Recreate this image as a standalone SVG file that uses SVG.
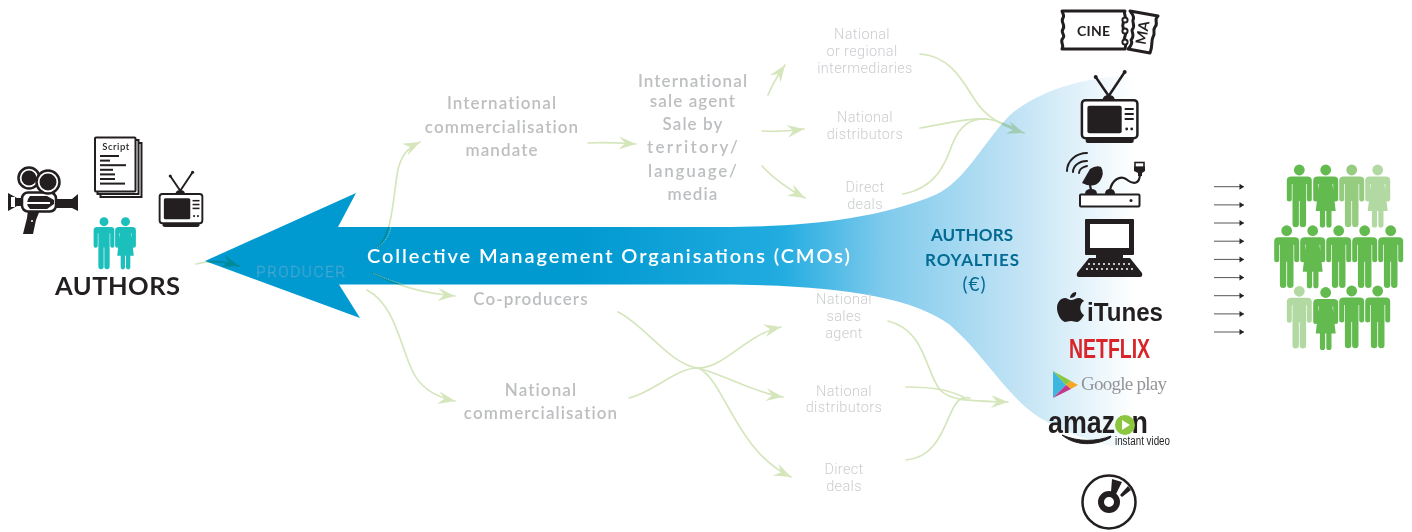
<svg xmlns="http://www.w3.org/2000/svg" width="1412" height="532" viewBox="0 0 1412 532">
<style>
.b{font-family:"Lato","Liberation Sans",sans-serif;font-size:17px;font-weight:600;fill:#bcbec0;text-anchor:middle;letter-spacing:1.1px}
.t{font-family:"Roboto","Liberation Sans",sans-serif;font-size:14.5px;font-weight:300;fill:#cbcdcf;text-anchor:middle;letter-spacing:0.35px}
.c path{fill:none;stroke:#d5e6bd;stroke-width:1.7;stroke-linecap:round}
.c{mix-blend-mode:multiply}
.o path{fill:none;stroke:#7fc4c8;stroke-width:0.9;stroke-dasharray:1.500 0.800}
.r{font-family:"Lato","Liberation Sans",sans-serif;font-size:17px;font-weight:700;fill:#036a93;text-anchor:middle}
.pa path{stroke:#555;stroke-width:1;fill:none}
.k{fill:#231f20}
.ks{fill:none;stroke:#231f20}
.g1{fill:#63bb50}.g2{fill:#96cc80}.g3{fill:#b3d9a3}
</style>
<defs>
<linearGradient id="band" gradientUnits="userSpaceOnUse" x1="205" y1="0" x2="1135" y2="0">
<stop offset="0" stop-color="#0099d0"/>
<stop offset="0.4" stop-color="#0099d0"/>
<stop offset="0.62" stop-color="#22ace0"/>
<stop offset="0.73" stop-color="#7fcaec"/>
<stop offset="0.88" stop-color="#c4e4f5"/>
<stop offset="1" stop-color="#ffffff"/>
</linearGradient>
<marker id="ah" markerUnits="userSpaceOnUse" markerWidth="19" markerHeight="15" viewBox="-18 -7.5 19 15" refX="0" refY="0" orient="auto">
<path d="M0,0L-17,-6.5L-11,0L-17,6.5Z" fill="#d5e6bd"/>
</marker>
<marker id="sa" markerUnits="userSpaceOnUse" markerWidth="7" markerHeight="7" viewBox="-6 -3.5 7 7" refX="0" refY="0" orient="auto">
<path d="M0,0L-4.5,-3V3Z" fill="#222"/>
</marker>
<symbol id="man" overflow="visible">
<circle cx="0" cy="0" r="5.400"/>
<path d="M-8,6.500H8Q12.500,6.500 12.500,10.500V29a2.500,2.500 0 0 1-5,0V14H6.800V54a3.200,3.200 0 0 1-6.400,0V31H-0.400V54a3.200,3.200 0 0 1-6.400,0V14H-7.500V29a2.500,2.500 0 0 1-5,0V10.500Q-12.500,6.500-8,6.500Z"/>
</symbol>
<symbol id="woman" overflow="visible">
<circle cx="0" cy="0" r="5.400"/>
<path d="M-8,6.500H8Q12.500,6.500 12.500,10.500V29a2.500,2.500 0 0 1-5,0V14H6.800L10,41H5.800V55a2.600,2.600 0 0 1-5.200,0V41H-0.600V55a2.600,2.600 0 0 1-5.200,0V41H-10L-6.800,14H-7.500V29a2.500,2.500 0 0 1-5,0V10.500Q-12.500,6.500-8,6.500Z"/>
</symbol>
<symbol id="tv" overflow="visible">
<path class="ks" stroke-width="2.500" stroke-linecap="round" d="M28,-3L15,-22M28,-3L44,-27"/>
<circle class="k" cx="15" cy="-22" r="2"/><circle class="k" cx="44" cy="-27" r="2"/>
<path class="k" d="M22,0Q23,-4 28,-4Q33,-4 34,0Z"/>
<path class="k" d="M5,40H53V42Q53,44 50,44H8Q5,44 5,42Z"/>
<rect x="1.200" y="1.200" width="55.500" height="38" rx="3.500" fill="#fff" stroke="#231f20" stroke-width="2.500"/>
<rect class="k" x="6.700" y="6.700" width="34.300" height="27.500" rx="2"/>
<rect class="k" x="44" y="9" width="9" height="2"/><rect class="k" x="44" y="14" width="9" height="2"/><rect class="k" x="44" y="19" width="9" height="2"/>
<circle class="k" cx="46" cy="30" r="1.400"/><circle class="k" cx="51" cy="30" r="1.400"/>
</symbol>
</defs>

<path id="flow-band" fill="url(#band)" d="M205,261L356,193L338,227H720C790,227 870,222 935,195C965,182 985,140 1010,115C1040,90 1085,76 1135,76V450C1105,447 1075,437 1040,418C1005,395 985,355 950,325C910,295 830,285 720,284.500H339L360,318Z"/>

<g id="connectors">
<g class="c">
<path d="M196,264C208,261 220,260 239,266" marker-end="url(#ah)"/>
<path d="M377,248C392,236 393,200 397,175C400,155 408,148 420,142" marker-end="url(#ah)"/>
<path d="M588,143C605,142 620,143 636,144" marker-end="url(#ah)"/>
<path d="M373,273C395,285 420,293 455,296" marker-end="url(#ah)"/>
<path d="M367,290C395,305 400,345 412,370C420,388 435,397 455,401" marker-end="url(#ah)"/>
<path d="M768,95C772,85 778,75 785,65" marker-end="url(#ah)"/>
<path d="M762,131C776,132 790,131 804,129" marker-end="url(#ah)"/>
<path d="M762,166C775,180 790,190 805,198" marker-end="url(#ah)"/>
<path d="M920,54C950,56 962,80 975,100C985,116 1000,125 1024,133" marker-end="url(#ah)"/>
<path d="M920,128C945,124 965,118 985,119C995,119 1005,124 1014,128"/>
<path d="M903,194C935,188 945,165 952,145C960,125 970,118 988,119"/>
<path d="M618,312C645,325 670,365 698,368C725,368 745,335 781,327" marker-end="url(#ah)"/>
<path d="M629,398C655,392 675,368 698,368C725,375 755,393 783,397" marker-end="url(#ah)"/>
<path d="M698,368C725,380 735,450 791,477" marker-end="url(#ah)"/>
<path d="M888,321C925,330 925,370 940,390C950,400 965,401 1008,402" marker-end="url(#ah)"/>
<path d="M906,387C935,387 950,390 965,398"/>
<path d="M906,460C940,457 945,420 955,405C960,397 965,397 970,398"/>
</g>
<g class="o">
<path d="M377,248C385,242 389,236 391,227"/>
<path d="M373,273C383,278 392,281 402,284"/>
</g>
</g>

<g id="cmo-label">
<text x="367" y="263" font-family="Lato,'Liberation Sans',sans-serif" font-size="20" font-weight="600" fill="#fff" textLength="483">Collective Management Organisations (CMOs)</text>
</g>
<g id="producer"><text x="256" y="276.500" font-family="Roboto,'Liberation Sans',sans-serif" font-size="15.500" font-weight="300" fill="#0099d0" stroke="#4fa9d0" stroke-width="0.500" textLength="89">PRODUCER</text></g>

<g id="authors">
<path class="k" d="M8,193L17,198H23V206H17L8,211Z"/>
<rect x="11" y="197" width="4" height="10" fill="#fff"/>
<path class="k" d="M28,210H40L36,220L33,234H23L27,218Z"/>
<circle cx="32" cy="221" r="1" fill="#fff"/>
<path class="k" d="M55,199H72L78,194V211L72,208H55Z"/>
<rect x="22" y="192.500" width="34" height="19" rx="6" fill="#fff" stroke="#231f20" stroke-width="2.500"/>
<path class="k" d="M30,196H47L54,200V204L47,209H30Q24,203 30,196Z"/>
<rect x="27" y="202" width="23" height="2" fill="#fff"/>
<circle cx="29" cy="178" r="10.500" fill="#fff" stroke="#231f20" stroke-width="2.500"/>
<circle cx="48" cy="182" r="11.500" fill="#fff" stroke="#231f20" stroke-width="2.500"/>
<circle class="k" cx="29" cy="178" r="7.500"/><circle class="k" cx="48" cy="182" r="8.500"/>

<rect x="100.500" y="143" width="41" height="54" fill="#fff" stroke="#231f20" stroke-width="2"/>
<rect x="97.500" y="140" width="41" height="54" fill="#fff" stroke="#231f20" stroke-width="2"/>
<rect x="95" y="137.500" width="40.500" height="54" rx="1" fill="#fff" stroke="#231f20" stroke-width="2"/>
<text x="116" y="150" font-family="Lato,'Liberation Sans',sans-serif" font-size="9.500" font-weight="600" fill="#231f20" text-anchor="middle" letter-spacing="0.500">Script</text>
<g class="k"><rect x="100" y="155" width="19" height="2"/><rect x="100" y="159.600" width="10" height="2"/><rect x="100" y="164.200" width="26" height="2"/><rect x="100" y="168.800" width="13" height="2"/><rect x="100" y="173.400" width="15" height="2"/><rect x="100" y="178" width="15" height="2"/><rect x="100" y="182.600" width="25" height="2"/></g>

<use href="#tv" transform="translate(158.700 193) scale(0.77)"/>
<use href="#man" transform="translate(104 221.700) scale(0.83)" fill="#1bbfbb"/>
<use href="#woman" transform="translate(125.500 221.700) scale(0.83)" fill="#1bbfbb"/>
<text x="55" y="295" font-family="Lato,'Liberation Sans',sans-serif" font-size="25.500" font-weight="700" fill="#231f20" textLength="125">AUTHORS</text>
</g>

<g id="intl-mandate">
<text class="b" x="502" y="109">International</text><text class="b" x="502" y="133">commercialisation</text><text class="b" x="502" y="156">mandate</text>
</g>
<g id="intl-agent">
<text class="b" x="693" y="87">International</text><text class="b" x="693" y="107">sale agent</text><text class="b" x="693" y="130">Sale by</text><text class="b" x="693" y="153" textLength="92">territory/</text><text class="b" x="693" y="177" textLength="90">language/</text><text class="b" x="693" y="200">media</text>
</g>
<g id="co-producers"><text class="b" x="531" y="305">Co-producers</text></g>
<g id="national-comm"><text class="b" x="541" y="396">National</text><text class="b" x="541" y="419">commercialisation</text></g>
<g id="intermediaries"><text class="t" x="862" y="39">National</text><text class="t" x="862" y="56">or regional</text><text class="t" x="865" y="73">intermediaries</text></g>
<g id="distributors-top"><text class="t" x="865" y="122">National</text><text class="t" x="865" y="139">distributors</text></g>
<g id="direct-top"><text class="t" x="865" y="192">Direct</text><text class="t" x="865" y="209">deals</text></g>
<g id="sales-agent"><text class="t" x="844" y="304">National</text><text class="t" x="844" y="321">sales</text><text class="t" x="844" y="338">agent</text></g>
<g id="distributors-bottom"><text class="t" x="844" y="396">National</text><text class="t" x="844" y="412">distributors</text></g>
<g id="direct-bottom"><text class="t" x="844" y="474">Direct</text><text class="t" x="844" y="491">deals</text></g>

<g id="royalties">
<text class="r" x="972" y="241" textLength="82">AUTHORS</text>
<text class="r" x="972" y="266" textLength="94">ROYALTIES</text>
<text class="r" x="974.500" y="291" style="font-weight:400;font-size:19px" letter-spacing="1">(€)</text>
</g>

<g id="cinema">
<path class="ks" stroke-width="3" fill="#fff" stroke-linejoin="round" d="M1062,11H1125C1123,14 1127,17 1125,20C1122,23 1122,28 1125,31C1128,34 1122,38 1125,42C1127,45 1125,47 1125,49H1062C1065,45 1059,42 1063,38C1066,35 1060,33 1063,29C1066,25 1060,22 1063,18C1065,15 1062,13 1062,11Z"/>
<circle cx="1125" cy="20" r="2.600" fill="#fff" stroke="#231f20" stroke-width="2"/>
<circle cx="1125" cy="31" r="2.600" fill="#fff" stroke="#231f20" stroke-width="2"/>
<circle cx="1125" cy="42" r="2.600" fill="#fff" stroke="#231f20" stroke-width="2"/>
<path class="ks" stroke-width="3" stroke-linejoin="round" d="M1130,11L1158,16C1153,20 1159,23 1155,27C1152,31 1156,33 1153,37C1151,41 1153,45 1150,53L1128,49C1131,46 1133,43 1131,40C1135,36 1132,33 1132,30C1136,26 1132,23 1133,20C1135,16 1132,14 1130,11Z"/>
<text x="1093.500" y="35.500" font-family="Lato,sans-serif" font-size="14" font-weight="700" fill="#231f20" text-anchor="middle" textLength="33">CINE</text>
<text transform="translate(1147.500 33.500) rotate(-80)" font-family="Lato,sans-serif" font-size="14.500" font-weight="700" fill="#231f20" text-anchor="middle">MA</text>
</g>
<g id="tv-platform"><use href="#tv" transform="translate(1080.700 99)"/></g>
<g id="satellite">
<rect x="1080" y="194.500" width="59.500" height="12" rx="1" fill="#fff" stroke="#231f20" stroke-width="2"/>
<circle class="k" cx="1131" cy="200.500" r="1.500"/>
<path class="k" d="M1085,194Q1085,189 1091,189Q1097,189 1097,194Z"/>
<path class="k" d="M1105,194Q1105,189 1110,189Q1115,189 1115,194Z"/>
<path class="k" d="M1090,169L1082,183Q1094,189 1100,181Q1105,173 1101,167Q1096,165 1090,169Z"/>
<path class="ks" stroke-width="2.200" d="M1090,185L1091,190"/>
<path class="ks" stroke-width="2" stroke-linecap="round" d="M1067,171C1067,161 1076,153 1087,153M1073,172C1073,166 1079,161 1087,161M1079,173C1079,170 1082,167 1087,166"/>
<path class="ks" stroke-width="2.200" d="M1110,190C1112,180 1120,175 1126,179C1132,184 1140,186 1140,173"/>
<rect x="1135" y="162.500" width="9" height="5" fill="#fff" stroke="#231f20" stroke-width="1.600"/>
<path class="k" d="M1134,166.500H1145V171L1142,173V176H1138V173L1134,171Z"/>
</g>
<g id="computer">
<rect class="k" x="1085" y="219" width="49" height="36" rx="1"/>
<rect x="1090" y="224" width="39" height="24" fill="#fff"/>
<path class="k" d="M1096,255H1123V258H1130L1142,273Q1143,277 1140,277H1079Q1076,277 1077,273L1089,258H1096Z"/>
<g fill="#fff"><circle cx="1089" cy="264" r="1"/><circle cx="1094" cy="264" r="1"/><circle cx="1099" cy="264" r="1"/><circle cx="1104" cy="264" r="1"/><circle cx="1109" cy="264" r="1"/><circle cx="1114" cy="264" r="1"/><circle cx="1119" cy="264" r="1"/><circle cx="1124" cy="264" r="1"/><circle cx="1129" cy="264" r="1"/>
<circle cx="1087" cy="269" r="1"/><circle cx="1092" cy="269" r="1"/><circle cx="1097" cy="269" r="1"/><circle cx="1102" cy="269" r="1"/><circle cx="1107" cy="269" r="1"/><circle cx="1112" cy="269" r="1"/><circle cx="1117" cy="269" r="1"/><circle cx="1122" cy="269" r="1"/><circle cx="1127" cy="269" r="1"/><circle cx="1132" cy="269" r="1"/></g>
</g>
<g id="itunes">
<path class="k" d="M1071,300C1074,300 1076,298 1079,298C1081,298 1083,300 1084,301C1079,304 1079,312 1084,315C1082,319 1079,322 1077,322C1074,322 1074,321 1071,321C1068,321 1067,322 1065,322C1061,321 1057,314 1057,308C1057,302 1061,298 1065,298C1067,298 1069,300 1071,300ZM1070,298C1070,295 1073,292 1076,292C1077,295 1074,298 1070,298Z"/>
<text x="1087" y="321" font-family="'Liberation Sans',sans-serif" font-size="25" font-weight="700" fill="#231f20" textLength="76" lengthAdjust="spacingAndGlyphs">iTunes</text>
</g>
<g id="netflix"><text x="1069" y="358" font-family="'Liberation Sans',sans-serif" font-size="28" font-weight="700" fill="#d9252a" textLength="81" lengthAdjust="spacingAndGlyphs">NETFLIX</text></g>
<g id="google-play">
<path d="M1053,371L1066,385L1053,398Z" fill="#3db6e0"/>
<path d="M1053,371L1071,381L1066,385Z" fill="#8cc63f"/>
<path d="M1071,381L1078,385L1071,389L1066,385Z" fill="#f7a823"/>
<path d="M1053,398L1066,385L1071,389Z" fill="#c2398c"/>
<text x="1081" y="390" font-family="'Liberation Serif',serif" font-size="19" fill="#939598" textLength="86">Google play</text>
</g>
<g id="amazon">
<text x="1048" y="433" font-family="'Liberation Sans',sans-serif" font-size="32" font-weight="700" fill="#231f20" textLength="100" lengthAdjust="spacingAndGlyphs">amazon</text>
<circle cx="1125" cy="425" r="10" fill="#8cc63f"/><path d="M1122,420L1130,425L1122,430Z" fill="#fff"/>
<path d="M1062,435C1075,446 1095,446 1110,438L1111,436C1096,442 1078,442 1062,435Z" fill="#231f20" stroke="#231f20"/>
<text x="1115" y="445" font-family="'Liberation Sans',sans-serif" font-size="12.500" fill="#231f20" textLength="55" lengthAdjust="spacingAndGlyphs">instant video</text>
</g>
<g id="disc">
<circle cx="1109" cy="502" r="26.500" fill="#fff" stroke="#231f20" stroke-width="2.500"/>
<circle cx="1109" cy="502" r="8" fill="none" stroke="#231f20" stroke-width="6"/>
<path class="k" d="M1111,492L1112,479L1122,482L1116,494ZM1120,495L1128,486L1131,490L1122,497Z"/>
</g>

<g id="audience-arrows" class="pa">
<path d="M1214,186.700H1244" marker-end="url(#sa)"/><path d="M1214,204.900H1244" marker-end="url(#sa)"/><path d="M1214,223H1244" marker-end="url(#sa)"/><path d="M1214,241.200H1244" marker-end="url(#sa)"/><path d="M1214,259.400H1244" marker-end="url(#sa)"/><path d="M1214,277.600H1244" marker-end="url(#sa)"/><path d="M1214,295.700H1244" marker-end="url(#sa)"/><path d="M1214,313.900H1244" marker-end="url(#sa)"/><path d="M1214,332H1244" marker-end="url(#sa)"/>
</g>
<g id="audience">
<use href="#man" class="g1" transform="translate(1299.300 170)"/><use href="#woman" class="g1" transform="translate(1325.700 170)"/><use href="#man" class="g2" transform="translate(1351.700 170)"/><use href="#woman" class="g3" transform="translate(1377.700 170)"/>
<use href="#man" class="g1" transform="translate(1286.700 230.700)"/><use href="#woman" class="g1" transform="translate(1312.700 230.700)"/><use href="#man" class="g1" transform="translate(1338.700 230.700)"/><use href="#man" class="g1" transform="translate(1364.700 230.700)"/><use href="#man" class="g1" transform="translate(1390.700 230.700)"/>
<use href="#man" class="g3" transform="translate(1299.300 291.300)"/><use href="#woman" class="g1" transform="translate(1325.700 292.500)"/><use href="#man" class="g1" transform="translate(1351.700 291)"/><use href="#man" class="g1" transform="translate(1377.700 291)"/>
</g>
</svg>
